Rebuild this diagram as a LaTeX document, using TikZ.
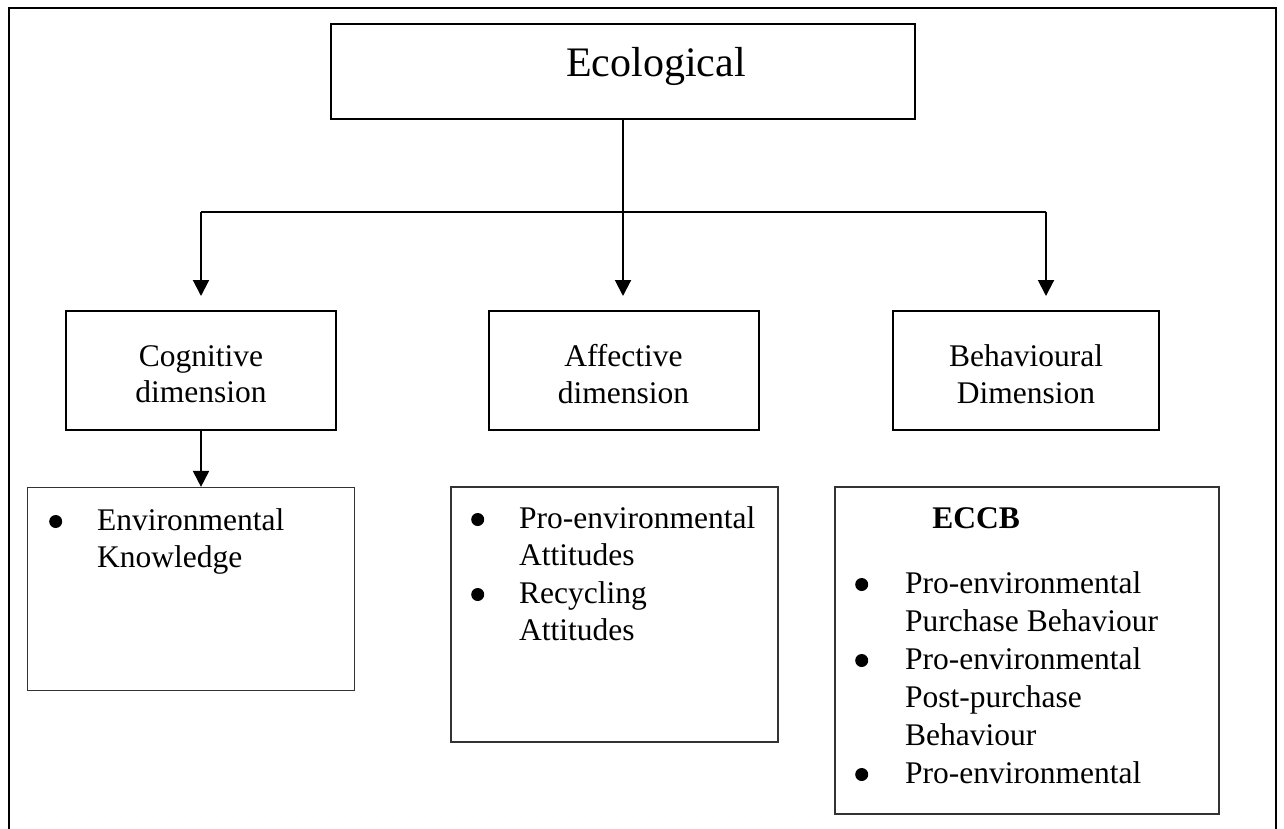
\documentclass[tikz,border=0pt]{standalone}
\usepackage{fontspec}
\setmainfont{Liberation Serif}
\usetikzlibrary{arrows.meta}
\newcommand\mybul[1]{\makebox[#1][l]{\hspace*{1pt}\raisebox{2pt}{\tikz\fill (0pt,0pt) circle (6.5pt);}}}
\begin{document}
\begin{tikzpicture}[x=1pt,y=-1pt,
  dimbox/.style={draw,line width=2pt,minimum width=270pt,minimum height=119pt,inner sep=0pt},
  listbox/.style={draw,line width=1.2pt,draw=black!80,inner sep=0pt},
  dimtext/.style={font=\fontsize{31.5}{36.5}\selectfont,align=center},
  listtext/.style={font=\fontsize{31.5}{37.5}\selectfont,anchor=base west,inner sep=0pt},
  conn/.style={line width=2pt},
  arr/.style={line width=2pt,-{Triangle[length=16pt,width=16pt]}}]
\useasboundingbox (0,0) rectangle (1284,828);
% outer frame (open at bottom)
\draw[line width=2.5pt] (9,835) -- (9,8) -- (1276,8) -- (1276,835);
% top box
\node[draw,line width=2pt,minimum width=584pt,minimum height=95pt,inner sep=0pt] (eco) at (623,71.5) {};
\node[font=\fontsize{42}{48}\selectfont,anchor=base,inner sep=0pt] (ecot) at (656,76) {Ecological};
% dimension boxes
\node[dimbox] (cog) at (201,370.5) {};
\node[dimtext] (cogt) at (201,374) {Cognitive\\dimension};
\node[dimbox] (aff) at (623.5,370.5) {};
\node[dimtext] (afft) at (623.5,374) {Affective\\dimension};
\node[dimbox,minimum width=266pt] (beh) at (1026,370.5) {};
\node[dimtext] (beht) at (1026,374) {Behavioural\\Dimension};
% list boxes
\node[listbox,minimum width=327pt,minimum height=203pt] (envb) at (191,589) {};
\node[listbox,minimum width=327pt,minimum height=255pt] (attb) at (614.5,614.5) {};
\node[listbox,minimum width=384pt,minimum height=327pt] (eccbb) at (1027,650.5) {};
\node[listtext] (envt) at (48,530) {\begin{tabular}[t]{@{}l@{}}\mybul{49pt}Environmental\\\hspace*{49pt}Knowledge\end{tabular}};
\node[listtext] (attt) at (470,528) {\begin{tabular}[t]{@{}l@{}}\mybul{49pt}Pro-environmental\\\hspace*{49pt}Attitudes\\\mybul{49pt}Recycling\\\hspace*{49pt}Attitudes\end{tabular}};
\node[font=\fontsize{31.5}{37}\selectfont\bfseries,anchor=base,inner sep=0pt] (eccbt) at (976,528) {ECCB};
\node[listtext,font=\fontsize{31.5}{38}\selectfont] (eccbl) at (854,593) {\begin{tabular}[t]{@{}l@{}}\mybul{51pt}Pro-environmental\\\hspace*{51pt}Purchase Behaviour\\\mybul{51pt}Pro-environmental\\\hspace*{51pt}Post-purchase\\\hspace*{51pt}Behaviour\\\mybul{51pt}Pro-environmental\end{tabular}};
% connectors
\coordinate (jl) at (201,212);
\coordinate (jm) at (623,212);
\coordinate (jr) at (1046,212);
\coordinate (tl) at (201,296);
\coordinate (tm) at (623,296);
\coordinate (tr) at (1046,296);
\draw[conn] (jl) -- (jr);
\draw[arr] (eco.south) -- (tm);
\draw[arr] (jl) -- (tl);
\draw[arr] (jr) -- (tr);
\draw[arr] (cog.south) -- (envb.north -| cog.south);
\end{tikzpicture}
\end{document}
